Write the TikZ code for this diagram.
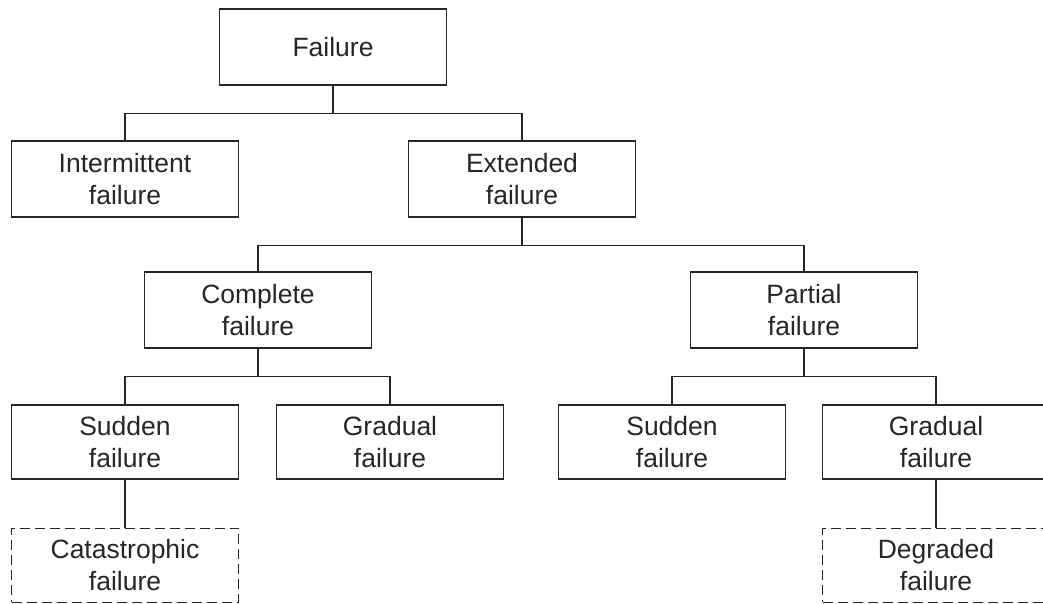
\documentclass[tikz,border=0pt]{standalone}
\usepackage{fontspec}
\setmainfont{Liberation Sans}
\usetikzlibrary{positioning}

\tikzset{
  box/.style={draw=black!85, line width=1.4pt, minimum width=227pt, minimum height=76pt,
    inner sep=0pt, align=center, text=black!85,
    font=\fontsize{26.5}{32}\selectfont},
  maybe/.style={box, minimum height=74pt, dash pattern=on 10pt off 5pt},
  fork/.style={draw=black!85, line width=1.4pt,
    to path={(\tikztostart.south) -- ++(0,-28pt) -| (\tikztotarget.north)}}
}

\begin{document}
\begin{tikzpicture}[x=1pt, y=-1pt]
        \useasboundingbox (0,0) rectangle (1043,603);
        \node[box] (fail) at (333,47) {Failure};
        \node[box] (inter) at (125,179) {Intermittent\\failure};
        \node[box] (ext) at (522,179) {Extended\\failure};
        \node[box] (comp) at (258,310) {Complete\\failure};
        \node[box] (part) at (804,310) {Partial\\failure};
        \node[box, minimum height=74pt] (sudA) at (125,442) {Sudden\\failure};
        \node[box, minimum height=74pt] (gradA) at (390,442) {Gradual\\failure};
        \node[box, minimum height=74pt] (sudB) at (672,442) {Sudden\\failure};
        \node[box, minimum height=74pt] (gradB) at (936,442) {Gradual\\failure};
        \node[maybe, below=48pt of sudA] (cata) {Catastrophic\\failure};
        \node[maybe, below=48pt of gradB] (degr) {Degraded\\failure};
        \draw[fork] (fail) to (inter);
        \draw[fork] (fail) to (ext);
        \draw[fork] (ext) to (comp);
        \draw[fork] (ext) to (part);
        \draw[fork] (comp) to (sudA);
        \draw[fork] (comp) to (gradA);
        \draw[fork] (part) to (sudB);
        \draw[fork] (part) to (gradB);
        \draw[draw=black!85, line width=1.4pt] (sudA) -- (cata);
        \draw[draw=black!85, line width=1.4pt] (gradB) -- (degr);
    \end{tikzpicture}
\end{document}
